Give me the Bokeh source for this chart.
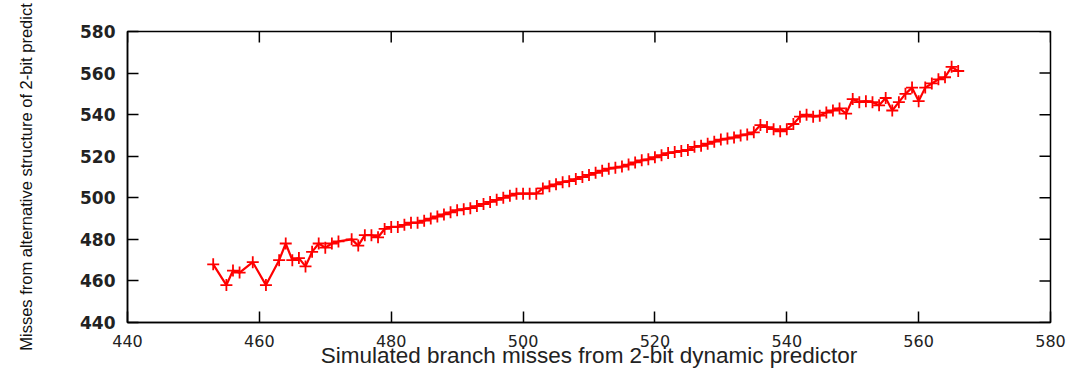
import math
from bokeh.plotting import figure
from bokeh.models import Range1d, FixedTicker
from bokeh.embed import file_html
from bokeh.resources import INLINE

# Data
sim_misses = [453, 455, 456, 457, 459, 461, 463, 464, 465, 466, 467, 468, 469, 470,
              471, 472, 474, 475, 476, 477, 478, 479, 480, 481, 482, 483, 484, 485,
              486, 487, 488, 489, 490, 491, 492, 493, 494, 495, 496, 497, 498, 499,
              500, 501, 502, 503, 504, 505, 506, 507, 508, 509, 510, 511, 512, 513,
              514, 515, 516, 517, 518, 519, 520, 521, 522, 523, 524, 525, 526, 527,
              528, 529, 530, 531, 532, 533, 534, 535, 536, 537, 538, 539, 540, 541,
              542, 543, 544, 545, 546, 547, 548, 549, 550, 551, 552, 553, 554, 555,
              556, 557, 558, 559, 560, 561, 562, 563, 564, 565, 566]
alt_misses = [468, 458, 465, 464, 469, 458, 470, 478, 470, 471, 467, 474, 478, 476,
              478, 479, 480, 477, 482, 482, 481, 485, 486, 486, 487, 488, 488, 489,
              490, 491, 492, 493, 494, 494.5, 495, 496, 497, 498, 499, 500, 501, 502,
              502, 502, 502, 504.5, 505.5, 506.5, 507.5, 508, 509, 510, 511, 512, 513, 514,
              514.5, 515, 516, 517, 518, 518.5, 519.5, 520.5, 521.5, 522, 522.5, 523, 524.5, 525,
              526, 527, 528, 528.5, 529, 530, 530.5, 531.5, 535, 534, 533, 532, 533, 535.5,
              539, 540, 539, 539.5, 541, 542, 543, 540.5, 547.5, 546, 546.5, 546, 544.5, 548,
              542, 546, 550, 553, 546.5, 553, 555, 557, 558, 563, 561]

x_ticks = [440, 460, 480, 500, 520, 540, 560, 580]
y_ticks = [440, 460, 480, 500, 520, 540, 560, 580]

x_title = "Simulated branch misses from 2-bit dynamic predictor"
y_title = "Misses from alternative structure of 2-bit predict"

x_lo, x_hi = x_ticks[0], x_ticks[-1]
y_lo, y_hi = y_ticks[0], y_ticks[-1]

p = figure(width=1073, height=372, output_backend="svg", toolbar_location=None,
           x_range=Range1d(x_lo, x_hi), y_range=Range1d(y_lo, y_hi),
           min_border_left=127, min_border_right=23, min_border_top=31, min_border_bottom=50)

p.line(sim_misses, alt_misses, line_color="#ff0000", line_width=2.2)
p.scatter(sim_misses, alt_misses, marker="cross", size=12, line_color="#ff0000",
          line_width=1.8)

# mirrored inward ticks on the right and top edges
p.ray(x=[x_hi] * len(y_ticks), y=y_ticks, length=11, length_units="screen",
      angle=math.pi, line_color="black", line_width=1.5)
p.ray(x=x_ticks, y=[y_hi] * len(x_ticks), length=11, length_units="screen",
      angle=-math.pi / 2, line_color="black", line_width=1.5)

p.xgrid.visible = False
p.ygrid.visible = False
p.outline_line_color = "black"
p.outline_line_width = 1.5
p.background_fill_color = "white"
p.border_fill_color = "white"

for ax in (p.xaxis[0], p.yaxis[0]):
    ax.major_tick_in = 11
    ax.major_tick_out = 0
    ax.minor_tick_line_color = None
    ax.axis_line_width = 1.5
    ax.major_tick_line_width = 1.5
    ax.major_label_standoff = 12

p.xaxis[0].major_label_standoff = 12
p.xaxis[0].ticker = FixedTicker(ticks=x_ticks)
p.yaxis[0].ticker = FixedTicker(ticks=y_ticks)
p.xaxis[0].major_label_text_font = "DejaVu Sans"
p.xaxis[0].major_label_text_font_size = "16px"
p.xaxis[0].major_label_text_color = "#222222"
p.yaxis[0].major_label_text_font = "DejaVu Sans"
p.yaxis[0].major_label_text_font_size = "17px"
p.yaxis[0].major_label_text_font_style = "bold"
p.yaxis[0].major_label_text_color = "#222222"

p.xaxis[0].axis_label = x_title
p.xaxis[0].axis_label_text_font = "Liberation Sans"
p.xaxis[0].axis_label_text_font_size = "22.5px"
p.xaxis[0].axis_label_text_font_style = "normal"
p.xaxis[0].axis_label_text_color = "#222222"
p.xaxis[0].axis_label_standoff = -7

p.yaxis[0].axis_label = y_title
p.yaxis[0].axis_label_text_font = "Liberation Sans"
p.yaxis[0].axis_label_text_font_size = "16.5px"
p.yaxis[0].axis_label_text_font_style = "normal"
p.yaxis[0].axis_label_text_color = "#111111"
p.yaxis[0].axis_label_standoff = 42

open("out.html", "w").write(file_html(p, INLINE))
